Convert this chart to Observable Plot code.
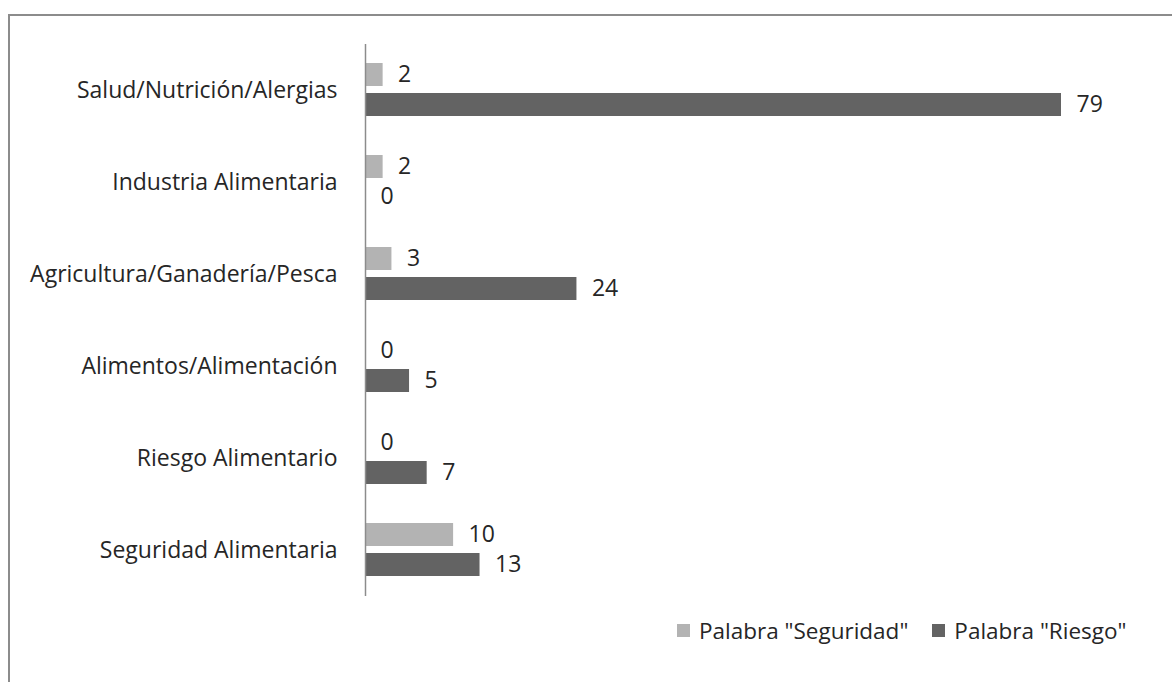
<!DOCTYPE html>
<html>
<head>
<meta charset="utf-8">
<script src="https://cdn.jsdelivr.net/npm/d3@7"></script>
<script src="https://cdn.jsdelivr.net/npm/@observablehq/plot@0.6"></script>
<style>
  html, body { margin: 0; padding: 0; background: #fff; overflow: hidden; width: 1172px; height: 682px; }
  #frame { position: absolute; left: 8px; top: 14px; width: 1300px; height: 800px; border: 2px solid #8c8c8c; box-sizing: border-box; }
  #chart { position: absolute; left: 0; top: 0; }
  #legend { position: absolute; left: 677px; top: 615px; font-family: "Open Sans", sans-serif; font-size: 22.5px; color: #262626; display: flex; align-items: center; white-space: nowrap; }
  .sw { display: inline-block; width: 13px; height: 13px; margin-right: 9px; }
  .item { display: flex; align-items: center; margin-right: 24px; }
</style>
</head>
<body>
<div id="frame"></div>
<div id="chart"></div>
<div id="legend"></div>
<script>
const categories = ["Salud/Nutrición/Alergias", "Industria Alimentaria", "Agricultura/Ganadería/Pesca", "Alimentos/Alimentación", "Riesgo Alimentario", "Seguridad Alimentaria"];
const seriesNames = ['Palabra "Seguridad"', 'Palabra "Riesgo"'];
const seguridadValues = [2, 2, 3, 0, 0, 10];
const riesgoValues = [79, 0, 24, 5, 7, 13];
const seriesColors = ["#b3b3b3", "#636363"];

const data = [];
categories.forEach((c, i) => {
  data.push({category: c, series: seriesNames[0], value: seguridadValues[i]});
  data.push({category: c, series: seriesNames[1], value: riesgoValues[i]});
});

const chart = Plot.plot({
  width: 1172,
  height: 610,
  marginLeft: 365,
  marginRight: 111,
  marginTop: 42,
  marginBottom: 13,
  style: {fontFamily: "'Open Sans', sans-serif", fontSize: "23px", color: "#262626", background: "transparent"},
  x: {domain: [0, 79], axis: null},
  y: {domain: seriesNames, axis: null, paddingInner: 0.23, paddingOuter: 0.62},
  fy: {domain: categories, padding: 0, axis: "left", label: null, tickSize: 0, tickPadding: 28},
  color: {domain: seriesNames, range: seriesColors},
  marks: [
    Plot.barX(data, {fy: "category", y: "series", x: "value", fill: "series"}),
    Plot.ruleX([0], {stroke: "#8c8c8c", strokeWidth: 1.5}),
    Plot.text(data, {fy: "category", y: "series", x: "value", text: d => String(d.value), textAnchor: "start", dx: 15, fill: "#262626", fontSize: 23})
  ]
});
document.getElementById("chart").appendChild(chart);

const legend = document.getElementById("legend");
seriesNames.forEach((s, i) => {
  const item = document.createElement("span");
  item.className = "item";
  const sw = document.createElement("span");
  sw.className = "sw";
  sw.style.background = seriesColors[i];
  item.appendChild(sw);
  item.appendChild(document.createTextNode(s));
  legend.appendChild(item);
});
</script>
</body>
</html>
